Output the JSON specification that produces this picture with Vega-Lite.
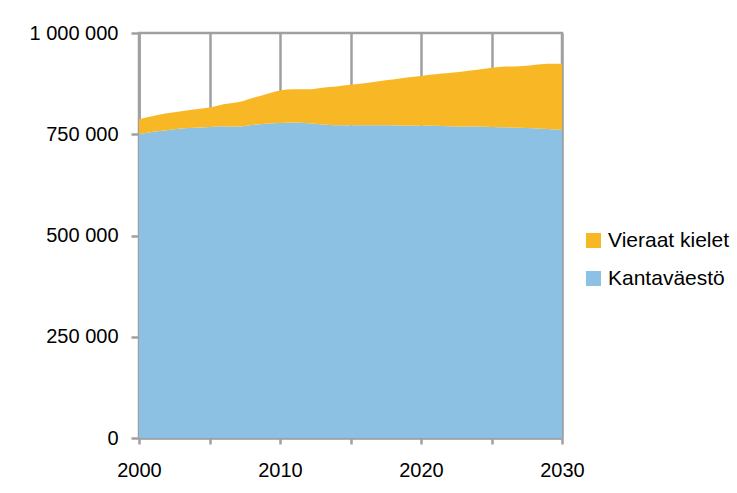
{
  "$schema": "https://vega.github.io/schema/vega-lite/v6.json",
  "autosize": {"type": "none"},
  "padding": {"left": 139, "top": 33, "right": 175, "bottom": 55},
  "width": 423,
  "height": 405,
  "background": "white",
  "config": {
    "locale": {"number": {"decimal": ",", "thousands": " ", "grouping": [3], "currency": ["", " €"]}},
    "font": "Liberation Sans",
    "view": {"stroke": "#A0A0A0", "strokeWidth": 2.5},
    "axis": {
      "labelFont": "Liberation Sans",
      "labelColor": "#000000",
      "labelFontSize": 20,
      "labelFlush": false,
      "domainColor": "#A0A0A0",
      "domainWidth": 2.5,
      "tickColor": "#A0A0A0",
      "tickWidth": 2.5,
      "gridColor": "#A0A0A0",
      "gridWidth": 2.5,
      "gridOpacity": 1,
      "title": null
    }
  },
  "data": {
    "values": [
      {"year": 2000, "group": "Kantaväestö", "value": 750000}, {"year": 2000, "group": "Vieraat kielet", "value": 37000},
      {"year": 2001, "group": "Kantaväestö", "value": 756000}, {"year": 2001, "group": "Vieraat kielet", "value": 39000},
      {"year": 2002, "group": "Kantaväestö", "value": 760000}, {"year": 2002, "group": "Vieraat kielet", "value": 42000},
      {"year": 2003, "group": "Kantaväestö", "value": 764000}, {"year": 2003, "group": "Vieraat kielet", "value": 43000},
      {"year": 2004, "group": "Kantaväestö", "value": 766000}, {"year": 2004, "group": "Vieraat kielet", "value": 46000},
      {"year": 2005, "group": "Kantaväestö", "value": 768000}, {"year": 2005, "group": "Vieraat kielet", "value": 48000},
      {"year": 2006, "group": "Kantaväestö", "value": 770000}, {"year": 2006, "group": "Vieraat kielet", "value": 54000},
      {"year": 2007, "group": "Kantaväestö", "value": 769000}, {"year": 2007, "group": "Vieraat kielet", "value": 60000},
      {"year": 2008, "group": "Kantaväestö", "value": 773000}, {"year": 2008, "group": "Vieraat kielet", "value": 66000},
      {"year": 2009, "group": "Kantaväestö", "value": 776000}, {"year": 2009, "group": "Vieraat kielet", "value": 73000},
      {"year": 2010, "group": "Kantaväestö", "value": 778000}, {"year": 2010, "group": "Vieraat kielet", "value": 80000},
      {"year": 2011, "group": "Kantaväestö", "value": 779000}, {"year": 2011, "group": "Vieraat kielet", "value": 82000},
      {"year": 2012, "group": "Kantaväestö", "value": 777000}, {"year": 2012, "group": "Vieraat kielet", "value": 84000},
      {"year": 2013, "group": "Kantaväestö", "value": 774000}, {"year": 2013, "group": "Vieraat kielet", "value": 91000},
      {"year": 2014, "group": "Kantaväestö", "value": 772000}, {"year": 2014, "group": "Vieraat kielet", "value": 96000},
      {"year": 2015, "group": "Kantaväestö", "value": 772000}, {"year": 2015, "group": "Vieraat kielet", "value": 100000},
      {"year": 2016, "group": "Kantaväestö", "value": 772000}, {"year": 2016, "group": "Vieraat kielet", "value": 104000},
      {"year": 2017, "group": "Kantaväestö", "value": 772000}, {"year": 2017, "group": "Vieraat kielet", "value": 109000},
      {"year": 2018, "group": "Kantaväestö", "value": 772000}, {"year": 2018, "group": "Vieraat kielet", "value": 113000},
      {"year": 2019, "group": "Kantaväestö", "value": 771000}, {"year": 2019, "group": "Vieraat kielet", "value": 119000},
      {"year": 2020, "group": "Kantaväestö", "value": 771000}, {"year": 2020, "group": "Vieraat kielet", "value": 123000},
      {"year": 2021, "group": "Kantaväestö", "value": 771000}, {"year": 2021, "group": "Vieraat kielet", "value": 127000},
      {"year": 2022, "group": "Kantaväestö", "value": 770000}, {"year": 2022, "group": "Vieraat kielet", "value": 131000},
      {"year": 2023, "group": "Kantaväestö", "value": 769000}, {"year": 2023, "group": "Vieraat kielet", "value": 136000},
      {"year": 2024, "group": "Kantaväestö", "value": 769000}, {"year": 2024, "group": "Vieraat kielet", "value": 140000},
      {"year": 2025, "group": "Kantaväestö", "value": 768000}, {"year": 2025, "group": "Vieraat kielet", "value": 146000},
      {"year": 2026, "group": "Kantaväestö", "value": 767000}, {"year": 2026, "group": "Vieraat kielet", "value": 150000},
      {"year": 2027, "group": "Kantaväestö", "value": 766000}, {"year": 2027, "group": "Vieraat kielet", "value": 152000},
      {"year": 2028, "group": "Kantaväestö", "value": 765000}, {"year": 2028, "group": "Vieraat kielet", "value": 156000},
      {"year": 2029, "group": "Kantaväestö", "value": 763000}, {"year": 2029, "group": "Vieraat kielet", "value": 161000},
      {"year": 2030, "group": "Kantaväestö", "value": 761000}, {"year": 2030, "group": "Vieraat kielet", "value": 163000}
    ]
  },
  "mark": {"type": "area", "interpolate": "monotone"},
  "encoding": {
    "x": {
      "field": "year",
      "type": "quantitative",
      "scale": {"domain": [2000, 2030], "nice": false, "zero": false},
      "axis": {
        "values": [2000, 2005, 2010, 2015, 2020, 2025, 2030],
        "format": "d",
        "labelExpr": "datum.value % 10 === 0 ? datum.label : ''",
        "grid": true,
        "tickSize": 6,
        "labelPadding": 16
      }
    },
    "y": {
      "field": "value",
      "type": "quantitative",
      "stack": "zero",
      "scale": {"domain": [0, 1000000], "nice": false},
      "axis": {
        "values": [0, 250000, 500000, 750000, 1000000],
        "format": ",.0f",
        "grid": false,
        "tickSize": 8,
        "labelPadding": 13
      }
    },
    "order": {"field": "group", "sort": "ascending"},
    "color": {
      "field": "group",
      "type": "nominal",
      "scale": {"domain": ["Vieraat kielet", "Kantaväestö"], "range": ["#F8B825", "#8DC1E3"]},
      "legend": {
        "title": null,
        "orient": "none",
        "legendX": 444,
        "legendY": 197,
        "symbolType": "square",
        "symbolSize": 225,
        "symbolStrokeWidth": 0,
        "symbolOpacity": 1,
        "labelFont": "Liberation Sans",
        "labelFontSize": 21,
        "labelColor": "#000000",
        "labelOffset": 4,
        "rowPadding": 16
      }
    }
  }
}
